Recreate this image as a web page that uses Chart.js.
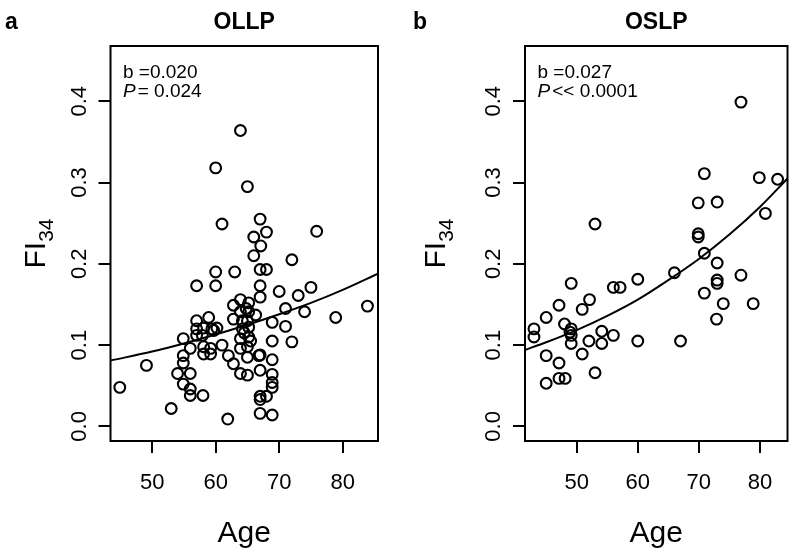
<!DOCTYPE html>
<html>
<head>
<meta charset="utf-8">
<script src="https://cdn.jsdelivr.net/npm/chart.js@4"></script>
<style>
  body { margin: 0; background: #fff; }
  #wrap { position: relative; width: 795px; height: 550px; }
  .panel { position: absolute; top: 0; height: 550px; }
</style>
</head>
<body>
<div id="wrap">
  <div class="panel" style="left:0;width:397px"><canvas id="chartA"></canvas></div>
  <div class="panel" style="left:397px;width:398px"><canvas id="chartB"></canvas></div>
</div>
<script>
// OLLP points (age, frailty index)
const ollpAge = [44.9, 49.1, 53.0, 54.9, 54.9, 54.9, 54.0, 56.0, 54.9, 56.0, 56.0, 58.0, 56.0, 57.0, 60.0,
  60.0, 57.0, 57.0, 58.9, 57.9, 57.0, 58.1, 58.1, 59.2, 59.2, 58.1, 59.4, 60.2, 61.0, 62.0,
  62.8, 60.0, 61.0, 63.9, 65.0, 63.0, 67.0, 68.0, 66.0, 67.1, 66.0, 75.9, 72.0, 67.0, 68.0,
  67.0, 70.0, 73.0, 75.0, 67.0, 83.9, 78.9, 74.0, 71.0, 68.9, 71.0, 68.9, 72.0, 67.0, 68.9,
  65.0, 63.9, 65.0, 67.0, 68.9, 68.9, 68.9, 67.0, 68.0, 67.0, 67.0, 68.9, 61.9, 63.9, 62.8,
  65.2, 63.9, 65.2, 66.3, 62.8, 64.2, 65.0, 64.2, 65.2, 63.9, 65.2, 63.9, 65.0, 66.8, 59.7,
  64.5, 65.5, 64.8]
const ollpFI = [0.048, 0.075, 0.022, 0.108, 0.087, 0.078, 0.065, 0.065, 0.052, 0.046, 0.038, 0.038, 0.096, 0.173, 0.173,
  0.190, 0.130, 0.120, 0.134, 0.112, 0.112, 0.098, 0.089, 0.096, 0.089, 0.121, 0.120, 0.121, 0.100, 0.087,
  0.077, 0.318, 0.249, 0.364, 0.295, 0.190, 0.255, 0.239, 0.233, 0.222, 0.210, 0.240, 0.205, 0.193, 0.193,
  0.173, 0.166, 0.161, 0.171, 0.159, 0.148, 0.134, 0.141, 0.145, 0.128, 0.123, 0.105, 0.104, 0.088, 0.082,
  0.085, 0.065, 0.063, 0.069, 0.064, 0.054, 0.048, 0.037, 0.037, 0.033, 0.016, 0.014, 0.009, 0.156, 0.149,
  0.152, 0.141, 0.141, 0.137, 0.132, 0.130, 0.130, 0.120, 0.122, 0.108, 0.110, 0.096, 0.098, 0.087, 0.118,
  0.115, 0.105, 0.145]

// OSLP points
const oslpAge = [43.0, 43.0, 45.0, 47.1, 45.0, 47.1, 45.0, 47.1, 48.1, 48.0, 49.1, 49.1, 49.1, 48.9, 50.9,
  52.1, 52.0, 50.9, 53.0, 54.1, 54.1, 56.0, 56.0, 57.1, 53.0, 49.1, 76.9, 70.9, 79.9, 82.9,
  69.9, 73.0, 80.9, 69.9, 69.9, 70.9, 73.0, 66.0, 60.0, 73.0, 73.0, 76.9, 70.9, 74.0, 78.9,
  72.9, 60.0, 67.0]
const oslpFI = [0.120, 0.110, 0.134, 0.149, 0.087, 0.078, 0.053, 0.059, 0.059, 0.126, 0.120, 0.112, 0.102, 0.116, 0.144,
  0.156, 0.105, 0.089, 0.066, 0.117, 0.102, 0.112, 0.171, 0.171, 0.249, 0.176, 0.399, 0.311, 0.306, 0.304,
  0.275, 0.276, 0.262, 0.237, 0.233, 0.213, 0.201, 0.189, 0.181, 0.180, 0.176, 0.186, 0.164, 0.151, 0.151,
  0.132, 0.105, 0.105]

// fitted curves
const fitAgeA = [43.44, 50, 55, 60, 65, 70, 75, 80, 85.56]
const fitFIA = [0.081, 0.092, 0.102, 0.113, 0.125, 0.138, 0.152, 0.168, 0.188]
const fitAgeB = [41.53, 45, 50, 55, 60, 65, 70, 75, 80, 84.52]
const fitFIB = [0.094, 0.1035, 0.1185, 0.136, 0.156, 0.180, 0.206, 0.236, 0.270, 0.305]

const xTicks = [50, 60, 70, 80]
const yTicks = [0, 0.1, 0.2, 0.3, 0.4]
const yTickLabels = ['0.0', '0.1', '0.2', '0.3', '0.4']

const FONT = '"Liberation Sans", Arial, Helvetica, sans-serif'

const toPoints = (xs, ys) => xs.map((x, i) => ({ x: x, y: ys[i] }))

// box, titles, rotated y labels etc.
const decor = {
    id: 'decor',
    afterDraw(chart, args, o) {
        const { ctx, chartArea: ca, scales } = chart
        const y = scales.y
        ctx.save()
        ctx.strokeStyle = '#000'
        ctx.lineWidth = 2
        ctx.strokeRect(ca.left, ca.top, ca.right - ca.left, ca.bottom - ca.top)

        ctx.fillStyle = '#000'
        // panel letter and title
        ctx.font = 'bold 23px ' + FONT
        ctx.textAlign = 'left'
        ctx.textBaseline = 'alphabetic'
        ctx.fillText(o.letter, o.letterX, 29)
        ctx.textAlign = 'center'
        ctx.fillText(o.title, (ca.left + ca.right) / 2, 29)

        // stats
        ctx.textAlign = 'left'
        ctx.font = '19px ' + FONT
        ctx.fillText(o.bText, ca.left + 12.5, 78)
        ctx.font = 'italic 19px ' + FONT
        ctx.fillText('P', ca.left + 12.5, 97)
        const pw = ctx.measureText('P').width
        ctx.font = '19px ' + FONT
        ctx.fillText(o.pText, ca.left + 12.5 + pw + 2, 97)

        // y tick labels, rotated
        ctx.font = '22px ' + FONT
        ctx.textAlign = 'center'
        yTicks.forEach((v, i) => {
            ctx.save()
            ctx.translate(ca.left - 25, y.getPixelForValue(v))
            ctx.rotate(-Math.PI / 2)
            ctx.fillText(yTickLabels[i], 0, 0)
            ctx.restore()
        })

        // y title FI with subscript 34
        ctx.save()
        ctx.translate(ca.left - o.yTitleOff, (ca.top + ca.bottom) / 2)
        ctx.rotate(-Math.PI / 2)
        ctx.textAlign = 'left'
        ctx.font = '30px ' + FONT
        const w1 = ctx.measureText('FI').width
        ctx.font = '21px ' + FONT
        const w2 = ctx.measureText('34').width
        const x0 = -(w1 + w2) / 2
        ctx.font = '30px ' + FONT
        ctx.fillText('FI', x0, 0)
        ctx.font = '21px ' + FONT
        ctx.fillText('34', x0 + w1, 8)
        ctx.restore()

        // x title
        ctx.font = '30px ' + FONT
        ctx.textAlign = 'center'
        ctx.fillText('Age', (ca.left + ca.right) / 2, 542)
        ctx.restore()
    },
}

function makePanel(id, ages, fis, fitAge, fitFI, xMin, xMax, layout, texts) {
    return new Chart(document.getElementById(id), {
        type: 'scatter',
        data: {
            datasets: [
                {
                    data: toPoints(ages, fis),
                    pointStyle: 'circle',
                    pointRadius: 5.4,
                    pointBorderWidth: 2.1,
                    borderColor: '#000',
                    backgroundColor: 'rgba(0,0,0,0)',
                    pointHoverRadius: 5.4,
                },
                {
                    data: toPoints(fitAge, fitFI),
                    showLine: true,
                    pointRadius: 0,
                    borderColor: '#000',
                    borderWidth: 2,
                    cubicInterpolationMode: 'monotone',
                },
            ],
        },
        options: {
            responsive: true,
            maintainAspectRatio: false,
            animation: false,
            layout: { padding: { left: 0, top: 46, right: layout.right, bottom: 0 } },
            plugins: {
                legend: { display: false },
                tooltip: { enabled: false },
                decor: texts,
            },
            scales: {
                x: {
                    type: 'linear',
                    min: xMin,
                    max: xMax,
                    afterBuildTicks: (axis) => {
                        axis.ticks = xTicks.map((v) => ({ value: v }))
                    },
                    afterFit: (s) => {
                        s.height = 109
                    },
                    border: { display: false },
                    grid: { drawOnChartArea: false, drawTicks: true, tickLength: 12, color: '#000', lineWidth: 2 },
                    ticks: {
                        color: '#000',
                        font: { family: FONT, size: 22 },
                        padding: 17,
                        maxRotation: 0,
                        autoSkip: false,
                    },
                },
                y: {
                    min: -0.018,
                    max: 0.468,
                    afterBuildTicks: (axis) => {
                        axis.ticks = yTicks.map((v) => ({ value: v }))
                    },
                    afterFit: (s) => {
                        s.width = layout.left
                    },
                    border: { display: false },
                    grid: { drawOnChartArea: false, drawTicks: true, tickLength: 12, color: '#000', lineWidth: 2 },
                    ticks: { display: false },
                },
            },
        },
        plugins: [decor],
    })
}

const chartA = makePanel('chartA', ollpAge, ollpFI, fitAgeA, fitFIA, 43.44, 85.56,
    { left: 110.5, right: 19 },
    { letter: 'a', letterX: 5, title: 'OLLP', bText: 'b =0.020', pText: '= 0.024', yTitleOff: 66 })

const chartB = makePanel('chartB', oslpAge, oslpFI, fitAgeB, fitFIB, 41.53, 84.52,
    { left: 128, right: 3.5 },
    { letter: 'b', letterX: 16, title: 'OSLP', bText: 'b =0.027', pText: '<< 0.0001', yTitleOff: 80 })
</script>
</body>
</html>
